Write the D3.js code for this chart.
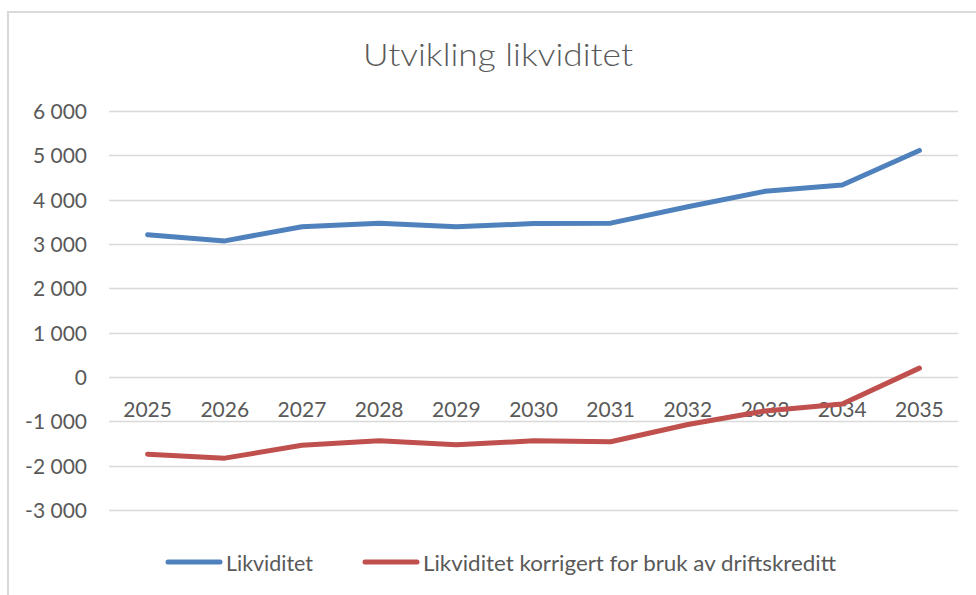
<!DOCTYPE html>
<html>
<head>
<meta charset="utf-8">
<script src="https://cdn.jsdelivr.net/npm/d3@7"></script>
<style>
  html, body { margin: 0; padding: 0; background: #fff; }
  svg { display: block; }
  text { font-family: Lato, "Open Sans", sans-serif; fill: #595959; }
</style>
</head>
<body>
<svg id="chart" width="976" height="595"></svg>
<script>
const title = "Utvikling likviditet";
const years = ["2025","2026","2027","2028","2029","2030","2031","2032","2033","2034","2035"];
const likviditet = [3210, 3070, 3390, 3470, 3390, 3460, 3470, 3840, 4190, 4330, 5110];
const korrigert = [-1740, -1830, -1540, -1440, -1530, -1440, -1460, -1070, -765, -610, 200];
const yTicks = [-3000, -2000, -1000, 0, 1000, 2000, 3000, 4000, 5000, 6000];
const seriesNames = ["Likviditet", "Likviditet korrigert for bruk av driftskreditt"];
const seriesColors = ["#4F81BD", "#C0504D"];

const svg = d3.select("#chart");

// chart area border
svg.append("rect")
  .attr("x", 8).attr("y", 12)
  .attr("width", 1100).attr("height", 1000)
  .attr("fill", "#fff")
  .attr("stroke", "#d9d9d9").attr("stroke-width", 2);

const plotLeft = 109, plotRight = 958, plotTop = 111, plotBottom = 510;

const x = d3.scaleBand().domain(years).range([plotLeft, plotRight]).padding(0);
const y = d3.scaleLinear().domain([-3000, 6000]).range([plotBottom, plotTop]);

const loc = d3.formatLocale({decimal: ",", thousands: "\u00a0", grouping: [3], currency: ["", ""], minus: "-"});
const fmt = loc.format(",d");

// gridlines
svg.append("g")
  .selectAll("line")
  .data(yTicks)
  .join("line")
  .attr("x1", plotLeft).attr("x2", plotRight)
  .attr("y1", d => Math.round(y(d)) + 0.5)
  .attr("y2", d => Math.round(y(d)) + 0.5)
  .attr("stroke", "#d9d9d9").attr("stroke-width", 1.3);

// y axis labels
const yAxis = d3.axisLeft(y).tickValues(yTicks).tickFormat(fmt).tickSize(0).tickPadding(0);
const gy = svg.append("g").attr("transform", "translate(87,0)").call(yAxis);
gy.select(".domain").remove();
gy.selectAll("text").style("font-size", "21px").style("font-family", "Lato, sans-serif").attr("fill", "#595959").attr("dy", "0.36em");

// x axis labels (next to axis at zero)
const xAxis = d3.axisBottom(x).tickSize(0).tickPadding(0);
const gx = svg.append("g").attr("transform", `translate(0,${y(0)})`).call(xAxis);
gx.select(".domain").remove();
gx.selectAll("text").style("font-size", "21px").style("font-family", "Lato, sans-serif").attr("fill", "#595959").attr("dy", "0").attr("y", 40);

// lines
const line = d3.line().x((d, i) => x(years[i]) + x.bandwidth() / 2).y(d => y(d));
[likviditet, korrigert].forEach((s, k) => {
  svg.append("path")
    .datum(s)
    .attr("d", line)
    .attr("fill", "none")
    .attr("stroke", seriesColors[k])
    .attr("stroke-width", 5)
    .attr("stroke-linejoin", "round")
    .attr("stroke-linecap", "round");
});

// title
svg.append("text")
  .attr("x", 498).attr("y", 66)
  .attr("text-anchor", "middle")
  .style("font-size", "32px")
  .style("font-weight", 300)
  .attr("textLength", 270)
  .attr("lengthAdjust", "spacingAndGlyphs")
  .text(title);

// legend
const leg = svg.append("g");
const legY = 562;
const legLineX = [166, 363];
const legTextW = [87, 413];
seriesNames.forEach((n, i) => {
  leg.append("line")
    .attr("x1", legLineX[i] + 2).attr("x2", legLineX[i] + 54)
    .attr("y1", legY).attr("y2", legY)
    .attr("stroke", seriesColors[i]).attr("stroke-width", 5).attr("stroke-linecap", "round");
  leg.append("text")
    .style("font-size", "21px")
    .attr("x", legLineX[i] + 60)
    .attr("y", legY + 9)
    .attr("textLength", legTextW[i])
    .attr("lengthAdjust", "spacingAndGlyphs")
    .text(n);
});
</script>
</body>
</html>
